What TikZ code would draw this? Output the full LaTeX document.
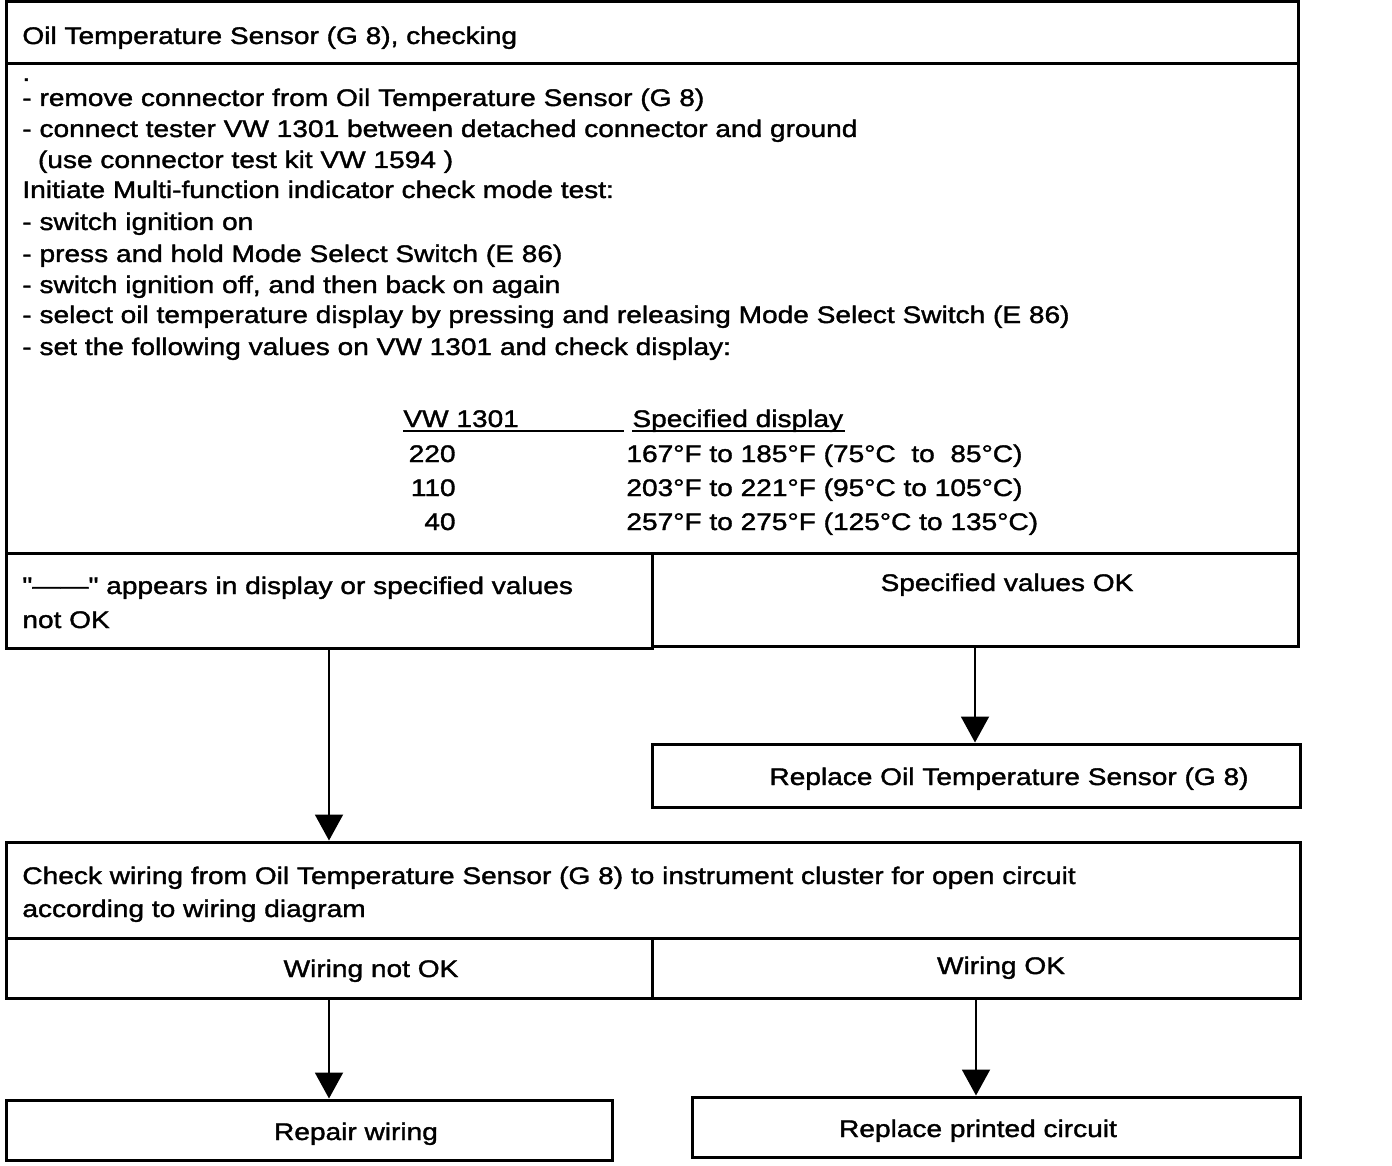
\documentclass[tikz,border=0pt]{standalone}
\usepackage{fontspec}
\setmainfont{Liberation Sans}[FakeStretch=1.17, FakeBold=1.5, Ligatures=TeXOff]
\usetikzlibrary{arrows.meta,fit}
\tikzset{
  box/.style={draw, line width=1.5pt, inner sep=0pt, line join=miter},
  txt/.style={inner sep=0pt, font=\fontsize{12pt}{14pt}\selectfont},
  arr/.style={line width=1pt, -{Triangle[width=14pt,length=13pt]}},
  uline/.style={line width=1pt}
}
\begin{document}
\begin{tikzpicture}[x=0.5pt,y=-0.5pt]
\useasboundingbox (0,0) rectangle (1392,1166);
% boxes
\node[box, fit={(6,2) (1298,64)}] (title) {};
\node[box, fit={(6,64) (1298,553)}] (main) {};
\node[box, fit={(6,553) (652,648)}] (dl) {};
\node[box, fit={(652,553) (1298,646)}] (dr) {};
\node[box, fit={(652,744) (1300,807)}] (repl) {};
\node[box, fit={(6,842) (1300,938)}] (chk) {};
\node[box, fit={(6,938) (652,998)}] (wn) {};
\node[box, fit={(652,938) (1300,998)}] (wo) {};
\node[box, fit={(6,1100) (612,1160)}] (rep) {};
\node[box, fit={(692,1097) (1300,1157)}] (rpc) {};
% title
\node[txt, anchor=base west] (t0) at (22,44) {Oil Temperature Sensor (G 8), checking};
% main text
\node[txt, anchor=base west] (m0) at (22,81) {.};
\node[txt, anchor=base west] (m1) at (22,106) {- remove connector from Oil Temperature Sensor (G 8)};
\node[txt, anchor=base west] (m2) at (22,137) {- connect tester VW 1301 between detached connector and ground};
\node[txt, anchor=base west] (m3) at (22,168) {\ \ (use connector test kit VW 1594 )};
\node[txt, anchor=base west] (m4) at (22,198) {Initiate Multi-function indicator check mode test:};
\node[txt, anchor=base west] (m5) at (22,230) {- switch ignition on};
\node[txt, anchor=base west] (m6) at (22,262) {- press and hold Mode Select Switch (E 86)};
\node[txt, anchor=base west] (m7) at (22,293) {- switch ignition off, and then back on again};
\node[txt, anchor=base west] (m8) at (22,323) {- select oil temperature display by pressing and releasing Mode Select Switch (E 86)};
\node[txt, anchor=base west] (m9) at (22,355) {- set the following values on VW 1301 and check display:};
% table
\node[txt, anchor=base west] (h1) at (403,427) {VW 1301};
\node[txt, anchor=base west] (h2) at (632,427) {Specified display};
\draw[uline] (403,431) -- (624,431);
\draw[uline] (632,431) -- (845,431);
\node[txt, anchor=base east] (a1) at (456,462) {220};
\node[txt, anchor=base east] (a2) at (456,496) {110};
\node[txt, anchor=base east] (a3) at (456,530) {40};
\node[txt, anchor=base west] (b1) at (626,462) {167°F to 185°F (75°C\ \ to\ \ 85°C)};
\node[txt, anchor=base west] (b2) at (626,496) {203°F to 221°F (95°C to 105°C)};
\node[txt, anchor=base west] (b3) at (626,530) {257°F to 275°F (125°C to 135°C)};
% decision row
\node[txt, anchor=base west] (d1) at (22,594) {"——" appears in display or specified values};
\node[txt, anchor=base west] (d2) at (22,628) {not OK};
\node[txt, anchor=base] (d3) at (1007,591) {Specified values OK};
\node[txt, anchor=base] (r1) at (1009,785) {Replace Oil Temperature Sensor (G 8)};
% check box
\node[txt, anchor=base west] (c1) at (22,884) {Check wiring from Oil Temperature Sensor (G 8) to instrument cluster for open circuit};
\node[txt, anchor=base west] (c2) at (22,917) {according to wiring diagram};
\node[txt, anchor=base] (w1) at (371,977) {Wiring not OK};
\node[txt, anchor=base] (w2) at (1001,974) {Wiring OK};
\node[txt, anchor=base] (e1) at (356,1140) {Repair wiring};
\node[txt, anchor=base] (e2) at (978,1137) {Replace printed circuit};
% connectors
\draw[arr] (dl.south) -- (dl.south |- chk.north);
\draw[arr] (dr.south) -- (dr.south |- repl.north);
\draw[arr] (wn.south) -- (wn.south |- rep.north);
\draw[arr] (wo.south) -- (wo.south |- rpc.north);
\end{tikzpicture}
\end{document}
